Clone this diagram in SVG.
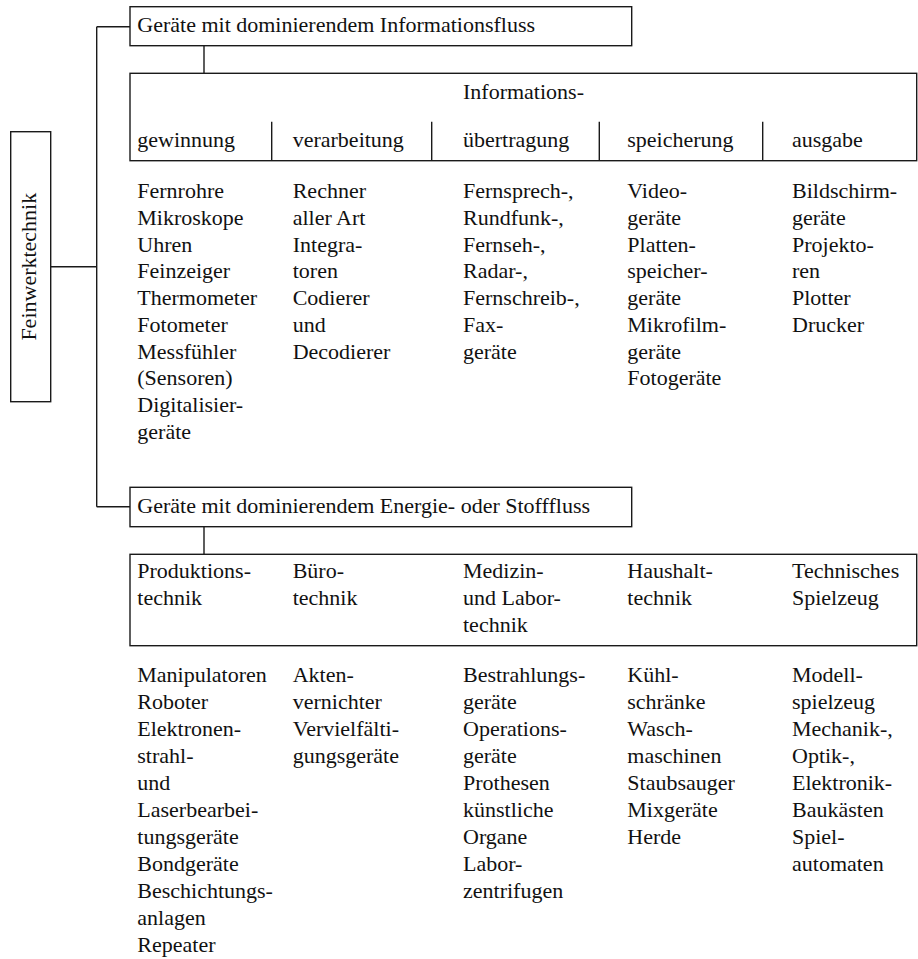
<svg xmlns="http://www.w3.org/2000/svg" width="918" height="959" viewBox="0 0 918 959">
<style>
.bx{fill:#fff;stroke:#1a1a1a;stroke-width:1.4}
.ln{fill:none;stroke:#1a1a1a;stroke-width:1.4}
text{font-family:"Liberation Serif","Times New Roman",serif;font-size:22px;fill:#111}
</style>
<rect width="918" height="959" fill="#fff"/>
<g id="connectors">
<path class="ln" d="M50.7,266.7H96.7M96.7,26.7V506.7M96.7,26.7H130M96.7,506.7H130M204,45.7V73.3M204,526.7V554.3"/>
</g>
<g id="root">
<rect class="bx" x="10.7" y="131.7" width="40" height="270"/>
<text transform="translate(35.5,266.7) rotate(-90)" text-anchor="middle">Feinwerktechnik</text>
</g>
<g id="info-title">
<rect class="bx" x="130" y="6.7" width="501.7" height="39"/>
<text x="137.3" y="31.7">Geräte mit dominierendem Informationsfluss</text>
</g>
<g id="info-table">
<rect class="bx" x="130" y="73.3" width="786.7" height="87.4"/>
<path class="ln" d="M271.7,121.7V160.7M431.7,121.7V160.7M599.3,121.7V160.7M762.7,121.7V160.7"/>
<text x="463" y="99.3">Informations-</text>
<text y="146.7"><tspan x="137.3">gewinnung</tspan><tspan x="292.7">verarbeitung</tspan><tspan x="463">übertragung</tspan><tspan x="627.3">speicherung</tspan><tspan x="792">ausgabe</tspan></text>
</g>
<g id="info-items">
<text y="198.3"><tspan x="137.3">Fernrohre</tspan><tspan x="137.3" dy="26.7">Mikroskope</tspan><tspan x="137.3" dy="26.7">Uhren</tspan><tspan x="137.3" dy="26.7">Feinzeiger</tspan><tspan x="137.3" dy="26.7">Thermometer</tspan><tspan x="137.3" dy="26.7">Fotometer</tspan><tspan x="137.3" dy="26.7">Messfühler</tspan><tspan x="137.3" dy="26.7">(Sensoren)</tspan><tspan x="137.3" dy="26.7">Digitalisier-</tspan><tspan x="137.3" dy="26.7">geräte</tspan></text>
<text y="198.3"><tspan x="292.7">Rechner</tspan><tspan x="292.7" dy="26.7">aller Art</tspan><tspan x="292.7" dy="26.7">Integra-</tspan><tspan x="292.7" dy="26.7">toren</tspan><tspan x="292.7" dy="26.7">Codierer</tspan><tspan x="292.7" dy="26.7">und</tspan><tspan x="292.7" dy="26.7">Decodierer</tspan></text>
<text y="198.3"><tspan x="463">Fernsprech-,</tspan><tspan x="463" dy="26.7">Rundfunk-,</tspan><tspan x="463" dy="26.7">Fernseh-,</tspan><tspan x="463" dy="26.7">Radar-,</tspan><tspan x="463" dy="26.7">Fernschreib-,</tspan><tspan x="463" dy="26.7">Fax-</tspan><tspan x="463" dy="26.7">geräte</tspan></text>
<text y="198.3"><tspan x="627.3">Video-</tspan><tspan x="627.3" dy="26.7">geräte</tspan><tspan x="627.3" dy="26.7">Platten-</tspan><tspan x="627.3" dy="26.7">speicher-</tspan><tspan x="627.3" dy="26.7">geräte</tspan><tspan x="627.3" dy="26.7">Mikrofilm-</tspan><tspan x="627.3" dy="26.7">geräte</tspan><tspan x="627.3" dy="26.7">Fotogeräte</tspan></text>
<text y="198.3"><tspan x="792">Bildschirm-</tspan><tspan x="792" dy="26.7">geräte</tspan><tspan x="792" dy="26.7">Projekto-</tspan><tspan x="792" dy="26.7">ren</tspan><tspan x="792" dy="26.7">Plotter</tspan><tspan x="792" dy="26.7">Drucker</tspan></text>
</g>
<g id="energy-title">
<rect class="bx" x="130" y="487.3" width="501.7" height="39.4"/>
<text x="137.3" y="512.7">Geräte mit dominierendem Energie- oder Stofffluss</text>
</g>
<g id="energy-table">
<rect class="bx" x="130" y="554.3" width="786.7" height="91.4"/>
<text y="578.3"><tspan x="137.3">Produktions-</tspan><tspan x="137.3" dy="26.7">technik</tspan></text>
<text y="578.3"><tspan x="292.7">Büro-</tspan><tspan x="292.7" dy="26.7">technik</tspan></text>
<text y="578.3"><tspan x="463">Medizin-</tspan><tspan x="463" dy="26.7">und Labor-</tspan><tspan x="463" dy="26.7">technik</tspan></text>
<text y="578.3"><tspan x="627.3">Haushalt-</tspan><tspan x="627.3" dy="26.7">technik</tspan></text>
<text y="578.3"><tspan x="792">Technisches</tspan><tspan x="792" dy="26.7">Spielzeug</tspan></text>
</g>
<g id="energy-items">
<text y="681.7"><tspan x="137.3">Manipulatoren</tspan><tspan x="137.3" dy="27">Roboter</tspan><tspan x="137.3" dy="27">Elektronen-</tspan><tspan x="137.3" dy="27">strahl-</tspan><tspan x="137.3" dy="27">und</tspan><tspan x="137.3" dy="27">Laserbearbei-</tspan><tspan x="137.3" dy="27">tungsgeräte</tspan><tspan x="137.3" dy="27">Bondgeräte</tspan><tspan x="137.3" dy="27">Beschichtungs-</tspan><tspan x="137.3" dy="27">anlagen</tspan><tspan x="137.3" dy="27">Repeater</tspan></text>
<text y="681.7"><tspan x="292.7">Akten-</tspan><tspan x="292.7" dy="27">vernichter</tspan><tspan x="292.7" dy="27">Vervielfälti-</tspan><tspan x="292.7" dy="27">gungsgeräte</tspan></text>
<text y="681.7"><tspan x="463">Bestrahlungs-</tspan><tspan x="463" dy="27">geräte</tspan><tspan x="463" dy="27">Operations-</tspan><tspan x="463" dy="27">geräte</tspan><tspan x="463" dy="27">Prothesen</tspan><tspan x="463" dy="27">künstliche</tspan><tspan x="463" dy="27">Organe</tspan><tspan x="463" dy="27">Labor-</tspan><tspan x="463" dy="27">zentrifugen</tspan></text>
<text y="681.7"><tspan x="627.3">Kühl-</tspan><tspan x="627.3" dy="27">schränke</tspan><tspan x="627.3" dy="27">Wasch-</tspan><tspan x="627.3" dy="27">maschinen</tspan><tspan x="627.3" dy="27">Staubsauger</tspan><tspan x="627.3" dy="27">Mixgeräte</tspan><tspan x="627.3" dy="27">Herde</tspan></text>
<text y="681.7"><tspan x="792">Modell-</tspan><tspan x="792" dy="27">spielzeug</tspan><tspan x="792" dy="27">Mechanik-,</tspan><tspan x="792" dy="27">Optik-,</tspan><tspan x="792" dy="27">Elektronik-</tspan><tspan x="792" dy="27">Baukästen</tspan><tspan x="792" dy="27">Spiel-</tspan><tspan x="792" dy="27">automaten</tspan></text>
</g>
</svg>
